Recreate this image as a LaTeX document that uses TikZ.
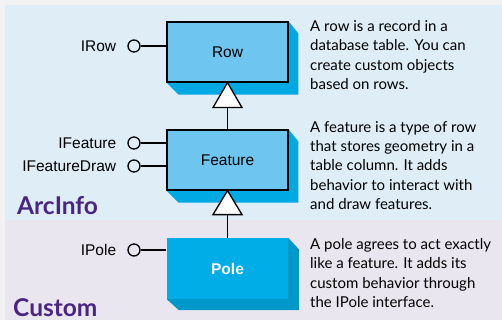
\documentclass[tikz,border=0pt]{standalone}
\usepackage{fontspec}
\setmainfont{Liberation Sans}
\newfontfamily\notefont{Lato}
\usetikzlibrary{positioning,backgrounds}
\definecolor{outergray}{HTML}{F2F1F4}
\definecolor{arcpanel}{HTML}{DFEDF7}
\definecolor{custpanel}{HTML}{E9E6F0}
\definecolor{classfill}{HTML}{6EC5EF}
\definecolor{classside}{HTML}{00A9E4}
\definecolor{polefill}{HTML}{00ADE6}
\definecolor{poleside}{HTML}{0098CB}
\definecolor{titlepurple}{HTML}{4A2683}
\tikzset{
  classbox/.style={draw=black, line width=1.2pt, fill=classfill, minimum width=121pt,
    minimum height=60pt, font=\fontsize{15.5}{18}\selectfont},
  polebox/.style={fill=polefill, minimum width=121pt, minimum height=61pt,
    text=white, font=\fontsize{15.5}{18}\selectfont\bfseries},
  lolli/.style={circle, draw=black, line width=1.3pt, minimum size=12pt, inner sep=0pt},
  iface/.style={inner sep=0pt, font=\fontsize{15.5}{18}\selectfont},
  note/.style={inner sep=0pt, align=left, anchor=north west,
    font=\fontsize{15}{19.4}\selectfont\notefont},
  title/.style={inner sep=0pt, anchor=base west, text=titlepurple,
    font=\fontsize{24.5}{28}\selectfont\notefont\bfseries},
  genarrow/.style={draw=black, line width=1.3pt, fill=white, line join=miter}
}
\begin{document}
\begin{tikzpicture}[x=1pt,y=-1pt]
\useasboundingbox (0,0) rectangle (502,320);
% Panels
\begin{scope}[on background layer]
\fill[outergray] (0,0) rectangle (502,320);
\fill[arcpanel] (5,5) rectangle (502,220);
\fill[custpanel] (5,220) rectangle (502,320);
\end{scope}
% Classes
\node[classbox] (row) at (227.5,52) {Row};
\node[classbox] (feature) at (227.5,160) {Feature};
\node[polebox] (pole) at (227.5,268.5) {Pole};
% Extruded sides
\begin{scope}[on background layer]
\fill[classside] (row.south west) -- ++(12,12) -- ++(120,0) -- ++(0,-61) -- (row.north east) -- cycle;
\fill[classside] (feature.south west) -- ++(12,12) -- ++(120,0) -- ++(0,-61) -- (feature.north east) -- cycle;
\fill[poleside] (pole.south west) -- ++(12,11) -- ++(120,0) -- ++(0,-61) -- (pole.north east) -- cycle;
\end{scope}
% Inheritance
\draw[line width=1.3pt] (227.5,107) -- (feature.north);
\draw[genarrow] (row.south) -- ++(14.5,25) -- ++(-29,0) -- cycle;
\draw[line width=1.3pt] (227.5,214) -- (pole.north);
\draw[genarrow] (feature.south) -- ++(14.5,24) -- ++(-29,0) -- cycle;
% Interfaces
\node[lolli] (irow) at (134,46) {};
\node[lolli] (ifeature) at (134,143) {};
\node[lolli] (ifeaturedraw) at (134,166) {};
\node[lolli] (ipole) at (134,250) {};
\foreach \i in {irow,ifeature,ifeaturedraw,ipole}
  \draw[line width=1.3pt] (\i) -- (\i -| row.west);
\node[iface, left=11pt of irow] {IRow};
\node[iface, left=11pt of ifeature] {IFeature};
\node[iface, left=11pt of ifeaturedraw] {IFeatureDraw};
\node[iface, left=11pt of ipole] {IPole};
% Layer titles
\node[title] (arcinfo) at (17,214) {ArcInfo};
\node[title] (custom) at (13,316.5) {Custom};
% Notes
\node[note] (rownote) at (310,20) {A row is a record in a\\database table. You can\\create custom objects\\based on rows.};
\node[note] (featurenote) at (310,121) {A feature is a type of row\\that stores geometry in a\\table column. It adds\\behavior to interact with\\and draw features.};
\node[note] (polenote) at (310,238) {A pole agrees to act exactly\\like a feature. It adds its\\custom behavior through\\the IPole interface.};
\end{tikzpicture}
\end{document}
